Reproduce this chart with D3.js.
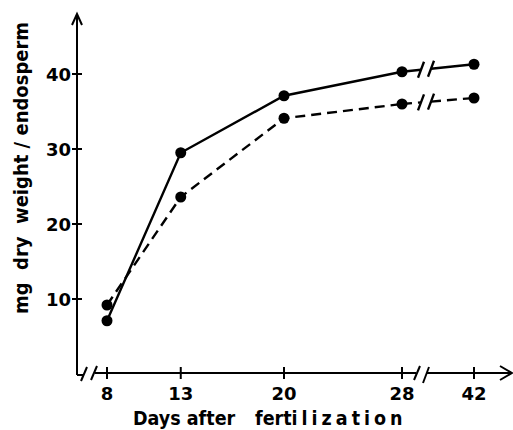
<!doctype html>
<html>
<head>
<meta charset="utf-8"/>
<script src="https://cdnjs.cloudflare.com/ajax/libs/d3/7.8.5/d3.min.js"></script>
<style>
  body { margin: 0; background: #fff; }
  text { font-family: "DejaVu Sans", sans-serif; font-weight: bold; fill: #000; }
  .title { font-family: "DejaVu Sans Condensed", "DejaVu Sans", sans-serif; font-stretch: condensed; }
  .axis line, .axis path { stroke: #000; stroke-width: 2px; fill: none; }
  .series { fill: none; stroke: #000; stroke-width: 2.4px; }
</style>
</head>
<body>
<svg width="513" height="430"></svg>
<script>
// data
var days = [8, 13, 20, 28, 42];
var solidSeries = [7.1, 29.5, 37.1, 40.3, 41.3];
var dashedSeries = [9.2, 23.6, 34.1, 36.0, 36.8];
var yTicks = [10, 20, 30, 40];
var xTicks = [8, 13, 20, 28, 42];

var svg = d3.select("svg");

// x is broken between 28 and 42
var x = d3.scaleLinear().domain([8, 28, 42]).range([107, 402, 474]);
var y = d3.scaleLinear().domain([0, 48]).range([374, 14]);
var x0 = 77;   // y axis position

var ax = svg.append("g").attr("class", "axis");

// y axis line with arrow
ax.append("line").attr("x1", x0).attr("x2", x0).attr("y1", y(0) + 1).attr("y2", y(48));
ax.append("path").attr("d", "M" + (x0 - 5) + "," + (y(48) + 11) + "L" + x0 + "," + y(48) + "L" + (x0 + 5) + "," + (y(48) + 11));

// y ticks
ax.selectAll(".yt").data(yTicks).enter().append("line")
  .attr("x1", x0 - 5).attr("x2", x0 + 5)
  .attr("y1", function(d) { return y(d); }).attr("y2", function(d) { return y(d); });
svg.selectAll(".ylab").data(yTicks).enter().append("text")
  .attr("x", x0 - 6).attr("y", function(d) { return y(d) + 7; })
  .attr("text-anchor", "end").style("font-size", "18px")
  .text(function(d) { return d; });

// x axis, with breaks near the origin and between 28 and 42
var ya = y(0) - 1;
var xEnd = 512;
var b1 = x(8) - 20, b2 = (x(28) + x(42)) / 2 - 22;
function slash(g, cx, cy, h) {
  g.append("line").attr("x1", cx - 3).attr("y1", cy + h).attr("x2", cx + 3).attr("y2", cy - h);
}
ax.append("line").attr("x1", x0).attr("x2", b1 - 4).attr("y1", y(0) + 1).attr("y2", y(0) + 1);
slash(ax, b1 - 3, ya + 1, 7);
slash(ax, b1 + 7, ya, 7);
ax.append("line").attr("x1", b1 + 8).attr("x2", b2).attr("y1", ya).attr("y2", ya);
slash(ax, b2 + 1, ya, 7);
slash(ax, b2 + 10, ya + 2, 8);
ax.append("line").attr("x1", b2 + 11).attr("x2", xEnd).attr("y1", ya).attr("y2", ya);
ax.append("path").attr("d", "M" + (xEnd - 12) + "," + (ya - 7) + "L" + xEnd + "," + ya + "L" + (xEnd - 12) + "," + (ya + 7));

ax.selectAll(".xt").data(xTicks).enter().append("line")
  .attr("x1", function(d) { return x(d); }).attr("x2", function(d) { return x(d); })
  .attr("y1", ya - 6).attr("y2", ya + 6);
svg.selectAll(".xlab").data(xTicks).enter().append("text")
  .attr("x", function(d) { return x(d); }).attr("y", 400)
  .attr("text-anchor", "middle").style("font-size", "18px")
  .text(function(d) { return d; });

// axis titles
svg.append("text").attr("class", "title").attr("transform", "translate(28,168) rotate(-90)")
  .attr("text-anchor", "middle").style("font-size", "20px")
  .attr("xml:space", "preserve")
  .text("mg  dry  weight / endosperm");
var xt = svg.append("text").attr("class", "title").attr("x", 133).attr("y", 425)
  .style("font-size", "19.5px");
xt.append("tspan").text("Days after");
xt.append("tspan").attr("x", 255).text("fert");
xt.append("tspan").style("letter-spacing", "4px").text("ilization");

// series
function drawSeries(vals, dash) {
  var pts = days.map(function(d, i) { return [x(d), y(vals[i])]; });
  var g = svg.append("g");
  var line = d3.line();
  g.append("path").attr("class", "series")
    .attr("stroke-dasharray", dash)
    .attr("d", line(pts.slice(0, 4)));
  // broken last segment
  var p = pts[3], q = pts[4];
  function at(px) {
    var t = (px - p[0]) / (q[0] - p[0]);
    return [px, p[1] + t * (q[1] - p[1])];
  }
  var bx = b2 + 5;
  var a = at(bx), c = at(bx + 10);
  g.append("path").attr("class", "series").attr("stroke-dasharray", dash)
    .attr("d", line([p, a]));
  g.append("path").attr("class", "series").attr("stroke-dasharray", dash)
    .attr("d", line([c, q]));
  g.append("line").attr("class", "series").attr("x1", a[0] - 3).attr("y1", a[1] + 8).attr("x2", a[0] + 3).attr("y2", a[1] - 8);
  g.append("line").attr("class", "series").attr("x1", c[0] - 3).attr("y1", c[1] + 8).attr("x2", c[0] + 3).attr("y2", c[1] - 8);
  g.selectAll("circle").data(pts).enter().append("circle")
    .attr("cx", function(d) { return d[0]; }).attr("cy", function(d) { return d[1]; })
    .attr("r", 5.5).attr("fill", "#000");
}
drawSeries(solidSeries, null);
drawSeries(dashedSeries, "10,6");
</script>
</body>
</html>
